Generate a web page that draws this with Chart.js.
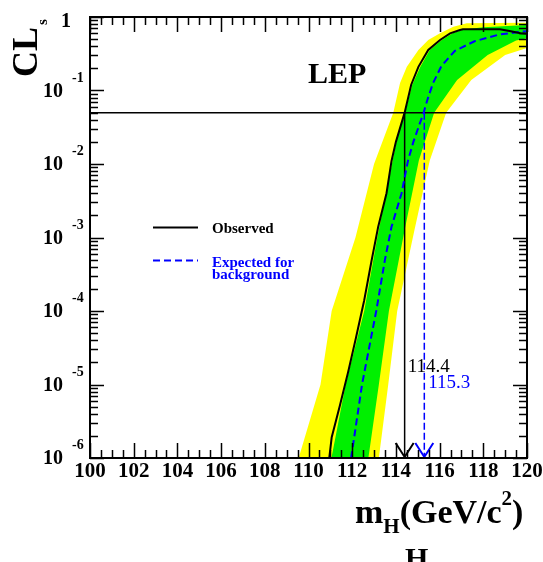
<!DOCTYPE html>
<html>
<head>
<meta charset="utf-8">
<script src="https://cdn.jsdelivr.net/npm/chart.js@4.4.1/dist/chart.umd.min.js"></script>
<style>
  html, body { margin: 0; padding: 0; background: #fff; }
  canvas { display: block; }
</style>
</head>
<body>
<canvas id="clsChart" width="543" height="562"></canvas>
<script>
// Observed CLs as a function of the Higgs mass hypothesis (GeV/c^2)
const obsMass = [110.95, 111.06, 111.44, 111.82, 112.17, 112.55, 112.89, 113.19, 113.57, 113.80, 114.00,
  114.40, 114.70, 115.03, 115.48, 116.02, 116.48, 116.93, 117.07, 118.76, 119.20, 119.70, 120.00];
const obsCls = [1e-6, 1.9e-6, 5.2e-6, 1.5e-5, 4.3e-5, 1.4e-4, 4.9e-4, 1.4e-3, 4.0e-3, 0.011, 0.020,
  0.050, 0.12, 0.21, 0.356, 0.486, 0.60, 0.665, 0.68, 0.68, 0.645, 0.60, 0.59];

// Median expected CLs for background only
const expMass = [111.95, 112.45, 113.10, 113.50, 113.80, 114.26, 114.55, 114.80, 115.07, 115.27,
  115.45, 115.70, 116.08, 116.70, 117.60, 118.70, 119.70, 120.00];
const expCls = [1e-6, 1e-5, 1e-4, 5.0e-4, 1.4e-3, 4.0e-3, 0.011, 0.020, 0.034, 0.050,
  0.076, 0.126, 0.214, 0.347, 0.468, 0.575, 0.63, 0.638];

// 2 sigma band (yellow): left (low mass) edge and right edge
const band2LeftMass = [109.55, 110.55, 111.06, 112.15, 113.00, 113.88, 114.19, 114.50, 115.03, 115.48,
  116.02, 116.63, 117.24, 120.00];
const band2LeftCls = [1e-6, 1e-5, 1e-4, 1e-3, 1e-2, 0.050, 0.126, 0.211, 0.356, 0.486,
  0.60, 0.738, 0.82, 0.838];
const band2RightMass = [113.22, 113.65, 114.06, 114.85, 115.55, 116.30, 117.45, 119.00, 120.00];
const band2RightCls = [1e-6, 1e-5, 1e-4, 1.26e-3, 0.0112, 0.050, 0.139, 0.304, 0.38];

// 1 sigma band (green)
const band1LeftMass = [111.05, 111.70, 112.55, 113.15, 113.82, 114.05, 114.42, 114.75, 115.12, 115.55,
  116.10, 116.60, 117.10, 118.00, 120.00];
const band1LeftCls = [1e-6, 1e-5, 1e-4, 1e-3, 1e-2, 0.022, 0.050, 0.12, 0.211, 0.356,
  0.486, 0.60, 0.676, 0.724, 0.776];
const band1RightMass = [112.74, 113.22, 113.68, 114.40, 115.05, 115.75, 116.80, 118.20, 119.50, 120.00];
const band1RightCls = [1e-6, 1e-5, 1e-4, 1.26e-3, 0.0112, 0.050, 0.139, 0.304, 0.479, 0.513];

// 95% CL exclusion
const clsThreshold = 0.05;
const obsLimit = 114.4;
const expLimit = 115.3;

const xTickLabels = [100, 102, 104, 106, 108, 110, 112, 114, 116, 118, 120];
const yDecadeExps = [-6, -5, -4, -3, -2, -1];

const SERIF = '"Liberation Serif", "Times New Roman", serif';
const YELLOW = '#ffff00';
const GREEN = '#00f000';
const BLUE = '#0000ff';

const pts = (xs, ys) => xs.map((x, i) => ({ x: x, y: ys[i] }));
const polygon = (lx, ly, rx, ry) => pts(lx, ly).concat(pts(rx, ry).reverse());

function arrowHead(ctx, px, py, color) {
  ctx.strokeStyle = color;
  ctx.lineWidth = 2;
  ctx.beginPath();
  ctx.moveTo(px - 9, py - 15);
  ctx.lineTo(px, py - 1);
  ctx.lineTo(px + 9, py - 15);
  ctx.stroke();
}

// frame, inward ticks, labels and annotations
const decor = {
  id: 'decor',
  afterDatasetsDraw(chart) {
    const { ctx, chartArea: a, scales: { x, y } } = chart;
    ctx.save();

    arrowHead(ctx, x.getPixelForValue(obsLimit), a.bottom, '#000');
    arrowHead(ctx, x.getPixelForValue(expLimit), a.bottom, BLUE);

    ctx.strokeStyle = '#000';
    ctx.lineWidth = 1.5;
    ctx.beginPath();
    for (let m = x.min; m <= x.max + 1e-9; m += 0.5) {
      const px = Math.round(x.getPixelForValue(m)) + 0.5;
      const len = m % 2 === 0 ? 15 : 8;
      ctx.moveTo(px, a.bottom); ctx.lineTo(px, a.bottom - len);
      ctx.moveTo(px, a.top); ctx.lineTo(px, a.top + len);
    }
    for (let e = -6; e <= 0; e++) {
      for (let k = 1; k <= (e < 0 ? 9 : 1); k++) {
        const py = Math.round(y.getPixelForValue(k * Math.pow(10, e))) + 0.5;
        const len = k === 1 ? 14 : 8;
        ctx.moveTo(a.left, py); ctx.lineTo(a.left + len, py);
        ctx.moveTo(a.right, py); ctx.lineTo(a.right - len, py);
      }
    }
    ctx.stroke();

    ctx.lineWidth = 2;
    ctx.strokeRect(a.left, a.top, a.width, a.height);

    ctx.fillStyle = '#000';
    ctx.textBaseline = 'alphabetic';

    // x tick labels
    ctx.font = 'bold 21px ' + SERIF;
    ctx.textAlign = 'center';
    xTickLabels.forEach(v => ctx.fillText(String(v), x.getPixelForValue(v), a.bottom + 19));

    // y tick labels: 10 with a superscript exponent
    yDecadeExps.forEach(e => {
      const py = y.getPixelForValue(Math.pow(10, e));
      ctx.font = 'bold 20px ' + SERIF;
      ctx.textAlign = 'right';
      ctx.fillText('10', a.left - 27, py + 6);
      ctx.font = 'bold 14px ' + SERIF;
      ctx.textAlign = 'left';
      ctx.fillText(String(e), a.left - 18, py - 9);
    });
    ctx.font = 'bold 20px ' + SERIF;
    ctx.textAlign = 'right';
    ctx.fillText('1', a.left - 19, y.getPixelForValue(1) + 10);

    // y title, rotated: CL with subscript s
    ctx.save();
    ctx.translate(37, 77);
    ctx.rotate(-Math.PI / 2);
    ctx.textAlign = 'left';
    ctx.font = 'bold 36px ' + SERIF;
    ctx.fillText('CL', 0, 0);
    const clW = ctx.measureText('CL').width;
    ctx.font = 'bold 15px ' + SERIF;
    ctx.fillText('s', clW + 2, 10);
    ctx.restore();

    // x title: m_H(GeV/c^2)
    ctx.textAlign = 'left';
    let tx = 355;
    const pieces = [
      ['m', 34, 0], ['H', 21, 10], ['(GeV/c', 34, 0], ['2', 21, -18], [')', 34, 0]
    ];
    pieces.forEach(([s, size, dy]) => {
      ctx.font = 'bold ' + size + 'px ' + SERIF;
      ctx.fillText(s, tx, 523 + dy);
      tx += ctx.measureText(s).width;
    });
    ctx.font = 'bold 30px ' + SERIF;
    ctx.fillText('H', 405, 568);

    // experiment tag
    ctx.font = 'bold 30px ' + SERIF;
    ctx.fillText('LEP', 308, 83);

    // legend
    ctx.lineWidth = 2;
    ctx.strokeStyle = '#000';
    ctx.beginPath();
    ctx.moveTo(153, 227.5); ctx.lineTo(198, 227.5);
    ctx.stroke();
    ctx.strokeStyle = BLUE;
    ctx.setLineDash([7, 4]);
    ctx.beginPath();
    ctx.moveTo(153, 260.5); ctx.lineTo(198, 260.5);
    ctx.stroke();
    ctx.setLineDash([]);
    ctx.font = 'bold 15px ' + SERIF;
    ctx.fillStyle = '#000';
    ctx.fillText('Observed', 212, 233);
    ctx.fillStyle = BLUE;
    ctx.fillText('Expected for', 212, 267);
    ctx.fillText('background', 212, 279);

    // limit values next to the arrows
    ctx.font = '19px ' + SERIF;
    ctx.fillStyle = '#000';
    ctx.fillText(obsLimit.toFixed(1), x.getPixelForValue(obsLimit) + 3, 372);
    ctx.fillStyle = BLUE;
    ctx.fillText(expLimit.toFixed(1), x.getPixelForValue(expLimit) + 4, 388);

    ctx.restore();
  }
};

const lineBase = { pointRadius: 0, tension: 0, fill: false };

new Chart(document.getElementById('clsChart'), {
  type: 'line',
  data: {
    datasets: [
      Object.assign({}, lineBase, {
        label: '2 sigma',
        data: polygon(band2LeftMass, band2LeftCls, band2RightMass, band2RightCls),
        borderColor: 'rgba(0,0,0,0)', borderWidth: 0,
        backgroundColor: YELLOW, fill: 'shape', order: 10
      }),
      Object.assign({}, lineBase, {
        label: '1 sigma',
        data: polygon(band1LeftMass, band1LeftCls, band1RightMass, band1RightCls),
        borderColor: 'rgba(0,0,0,0)', borderWidth: 0,
        backgroundColor: GREEN, fill: 'shape', order: 9
      }),
      Object.assign({}, lineBase, {
        label: 'CLs = 0.05',
        data: [{ x: 100, y: clsThreshold }, { x: 120, y: clsThreshold }],
        borderColor: '#000', borderWidth: 1.5, order: 5
      }),
      Object.assign({}, lineBase, {
        label: 'Observed limit',
        data: [{ x: obsLimit, y: clsThreshold }, { x: obsLimit, y: 1e-6 }],
        borderColor: '#000', borderWidth: 1.5, order: 4
      }),
      Object.assign({}, lineBase, {
        label: 'Expected limit',
        data: [{ x: expLimit, y: clsThreshold }, { x: expLimit, y: 1e-6 }],
        borderColor: BLUE, borderWidth: 1.5, borderDash: [7, 3], order: 3
      }),
      Object.assign({}, lineBase, {
        label: 'Expected for background',
        data: pts(expMass, expCls),
        borderColor: BLUE, borderWidth: 2, borderDash: [7, 4], order: 2
      }),
      Object.assign({}, lineBase, {
        label: 'Observed',
        data: pts(obsMass, obsCls),
        borderColor: '#000', borderWidth: 2, order: 1
      })
    ]
  },
  options: {
    responsive: false,
    animation: false,
    events: [],
    layout: { padding: { left: 90, top: 17, right: 16, bottom: 104 } },
    scales: {
      x: { type: 'linear', min: 100, max: 120, display: false },
      y: { type: 'logarithmic', min: 1e-6, max: 1, display: false }
    },
    plugins: { legend: { display: false }, tooltip: { enabled: false } }
  },
  plugins: [decor]
});
</script>
</body>
</html>
